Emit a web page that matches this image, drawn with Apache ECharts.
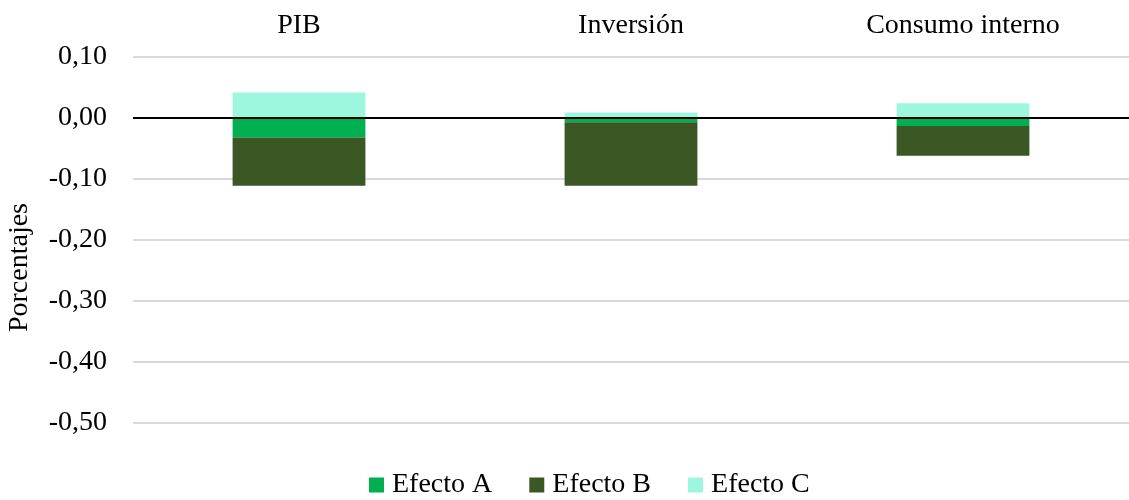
<!DOCTYPE html>
<html>
<head>
<meta charset="utf-8">
<script src="https://cdn.jsdelivr.net/npm/echarts@6/dist/echarts.min.js"></script>
<style>
  html, body { margin: 0; padding: 0; background: #ffffff; }
  #chart { width: 1129px; height: 500px; }
</style>
</head>
<body>
<div id="chart"></div>
<script>
// Categories and component values (percentage points)
const categories = ['PIB', 'Inversión', 'Consumo interno'];
const efectoA = [-0.032, -0.007, -0.013];
const efectoB = [-0.079, -0.104, -0.049];
const efectoC = [0.042, 0.009, 0.024];
const yTicks = { min: -0.5, max: 0.1, interval: 0.1 };

const FONT = '"Liberation Serif", "Times New Roman", serif';
const SIZE = 28;
const fmt = v => (Math.abs(v) < 1e-9 ? 0 : v).toFixed(2).replace('.', ',');

const chart = echarts.init(document.getElementById('chart'));
chart.setOption({
  animation: false,
  backgroundColor: '#ffffff',
  textStyle: { fontFamily: FONT, color: '#000000' },
  grid: { left: 133, top: 57, width: 1005, height: 366, containLabel: false },
  legend: {
    data: ['Efecto A', 'Efecto B', 'Efecto C'],
    left: 369, top: 471, padding: 0,
    itemWidth: 15, itemHeight: 15, itemGap: 37,
    icon: 'rect',
    textStyle: { fontFamily: FONT, fontSize: SIZE, color: '#000000', padding: [0, 0, 0, 3] }
  },
  xAxis: {
    type: 'category',
    data: categories,
    position: 'top',
    axisLine: { show: false },
    axisTick: { show: false },
    axisLabel: { fontFamily: FONT, fontSize: SIZE, color: '#000000', margin: 17 }
  },
  yAxis: {
    type: 'value',
    min: yTicks.min, max: yTicks.max, interval: yTicks.interval,
    axisLine: { show: false },
    axisTick: { show: false },
    splitLine: { lineStyle: { color: '#d9d9d9', width: 2 } },
    axisLabel: { fontFamily: FONT, fontSize: SIZE, color: '#000000', margin: 26, formatter: fmt }
  },
  graphic: [{
    type: 'text',
    left: 6, top: 203,
    rotation: Math.PI / 2,
    style: { text: 'Porcentajes', font: SIZE + 'px ' + FONT, fill: '#000000' }
  }],
  series: [
    {
      name: 'Efecto A', type: 'bar', stack: 'total', barWidth: '40%',
      itemStyle: { color: '#00B050' },
      data: efectoA,
      markLine: {
        silent: true, symbol: 'none', label: { show: false },
        lineStyle: { color: '#000000', width: 2, type: 'solid' },
        data: [{ yAxis: 0 }]
      }
    },
    {
      name: 'Efecto B', type: 'bar', stack: 'total', barWidth: '40%',
      itemStyle: { color: '#3A5724' },
      data: efectoB
    },
    {
      name: 'Efecto C', type: 'bar', stack: 'total', barWidth: '40%',
      itemStyle: { color: '#9DF7DF' },
      data: efectoC
    }
  ]
});
</script>
</body>
</html>
